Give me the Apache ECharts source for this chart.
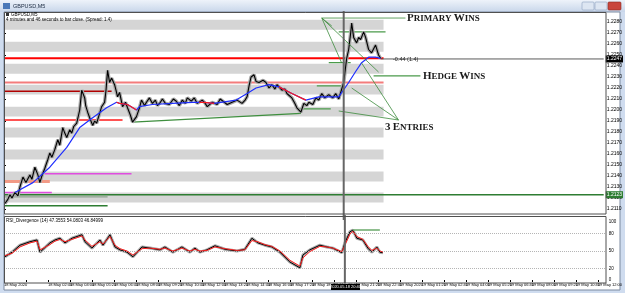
<!DOCTYPE html>
<html>
<head>
<meta charset="utf-8">
<script src="https://cdn.jsdelivr.net/npm/echarts/dist/echarts.min.js"></script>
<style>
html, body { margin: 0; padding: 0; background: #cfdcef; }
#main { width: 625px; height: 293px; }
</style>
</head>
<body>
<div id="main"></div>
<script>
var app = echarts.init(document.getElementById('main'));

// x = bar slot on the chart, y = GBPUSD price
var pricePts = [[0.5,1.2115],[2,1.2119],[3,1.2123],[4,1.2120],[5.5,1.2125],[7,1.2122],[8,1.2130],[9.5,1.2139],[11,1.2134],[13,1.2141],[14,1.2137],[15.5,1.2148],[17,1.2141],[18,1.2134],[19,1.2140],[20.5,1.2147],[22,1.2155],[23,1.2161],[24,1.2157],[25.5,1.2164],[27,1.2173],[28,1.2168],[29.5,1.2184],[30.5,1.2179],[31.5,1.2175],[33,1.2182],[34,1.2179],[35,1.2185],[36.5,1.2188],[38,1.2200],[39,1.2218],[40.5,1.2211],[41,1.2204],[42,1.2198],[43,1.2193],[44.5,1.2186],[45.5,1.2190],[46.5,1.2188],[48,1.2197],[49,1.2203],[50.5,1.2207],[51.2,1.2218],[52,1.2236],[53,1.2225],[54,1.2229],[55.5,1.2223],[56.2,1.2218],[57,1.2212],[58,1.2216],[59.5,1.2203],[61,1.2207],[62,1.2202],[63.5,1.2195],[64.5,1.2189],[66.5,1.2194],[68,1.2202],[69,1.2209],[70.5,1.2204],[71.5,1.2207],[73,1.2211],[74.5,1.2206],[76,1.2209],[77,1.2204],[78.5,1.2207],[79.5,1.2210],[81,1.2206],[83,1.2205],[85,1.2210],[86.5,1.2208],[88,1.2204],[89.5,1.2209],[91,1.2206],[92,1.2211],[94,1.2208],[95.5,1.2211],[97,1.2206],[99.5,1.2209],[101,1.2206],[102,1.2203],[104.5,1.2207],[107,1.2205],[108.5,1.2210],[109.5,1.2209],[112,1.2205],[114.5,1.2207],[117,1.2209],[119.5,1.2206],[121,1.2209],[122,1.2212],[123,1.2222],[124,1.2230],[125.5,1.2232],[126.5,1.2226],[128,1.2225],[130,1.2227],[131.5,1.2225],[133,1.2220],[134.5,1.2223],[136,1.2219],[137,1.2223],[139.5,1.2218],[141,1.2219],[142,1.2215],[144.5,1.2211],[146,1.2206],[147,1.2202],[149,1.2198],[150.5,1.2206],[152,1.2204],[153,1.2207],[155,1.2205],[156.5,1.2211],[158,1.2209],[159.5,1.2215],[161,1.2211],[163,1.2214],[165,1.2211],[166.5,1.2215],[168,1.2210],[169,1.2211],[170.5,1.2225],[172,1.2247],[173,1.2255],[174,1.2270],[174.5,1.2279],[175.5,1.2266],[177,1.2261],[178,1.2266],[179,1.2264],[180.5,1.2271],[181.5,1.2266],[183,1.2255],[184.5,1.2252],[186.5,1.2259],[188,1.2250],[189,1.2247]];

var maPts = [[5.5,1.2125],[14.5,1.2134],[23,1.2148],[31.5,1.2166],[38,1.2184],[44.5,1.2193],[51.5,1.2202],[56.5,1.2207],[58,1.2206],[62,1.2205],[66.5,1.2200],[68,1.2203],[74.5,1.2205],[84.5,1.2206],[94.5,1.2207],[100.5,1.2207],[105.5,1.2206],[116.5,1.2209],[122,1.2215],[126.5,1.2220],[133,1.2223],[138,1.2221],[144.5,1.2215],[151.5,1.2209],[158,1.2212],[168,1.2212],[173,1.2225],[176.5,1.2235],[179.5,1.2243],[183,1.2248],[186.5,1.2248],[189,1.2247]];
var maDown1 = [[56.5,1.2207],[58,1.2206],[62,1.2205],[66.5,1.2200]];
var maDown2 = [[98,1.2207],[100.5,1.2207],[103,1.22065],[105.5,1.2206]];
var maDown3 = [[138,1.2221],[144.5,1.2215],[151.5,1.2209]];

var rsiPts = [[0.5,40],[4,48],[8,60],[13,66],[16.5,69],[18,48],[23,64],[25.5,69],[28,72],[30.5,64],[34,72],[39,78],[40.5,66],[44,55],[48,69],[49.5,60],[53,78],[55.5,57],[58,52],[61.5,48],[64.5,40],[69,57],[73,55],[78,52],[80.5,57],[84.5,48],[89,57],[93,48],[95.5,55],[98,48],[101.5,52],[105.5,59],[110.5,53],[116.5,50],[120.5,53],[124,72],[127,64],[130.5,60],[134,57],[138,48],[143,31],[148,21],[149.5,43],[153,52],[158,60],[161.5,57],[164.5,55],[169,47],[170.5,64],[173,83],[174.5,86],[176.5,72],[179.5,69],[182,55],[184,48],[186.5,57],[188,48],[189.5,47]];
var rsiSignal = [[0.5,42],[4,46],[8,57],[13,64],[16.5,67],[18,52],[23,61],[25.5,67],[28,70],[30.5,66],[34,70],[39,76],[40.5,69],[44,58],[48,66],[49.5,62],[53,75],[55.5,60],[58,54],[61.5,50],[64.5,43],[69,54],[73,55],[78,53],[80.5,55],[84.5,50],[89,55],[93,50],[95.5,53],[98,50],[101.5,51],[105.5,57],[110.5,54],[116.5,51],[120.5,52],[124,68],[127,66],[130.5,61],[134,58],[138,50],[143,34],[148,24],[149.5,38],[153,49],[158,58],[161.5,57],[164.5,55],[169,49],[170.5,60],[173,79],[174.5,84],[176.5,75],[179.5,70],[182,58],[184,51],[186.5,55],[188,50],[189.5,48]];
var rsiLevels = [20, 50, 80];
var rsiTicks = [0, 20, 50, 80, 100];

// horizontal levels drawn on the chart
var levelPrice = [1.2247, 1.2225, 1.2217, 1.2191, 1.2135, 1.2142, 1.2125, 1.2121, 1.2113];
var levelFrom = [0, 0, 0, 0, 0, 20.5, 0, 0, 0];
var levelTo = [190.5, 190.5, 54, 59.5, 23, 64, 24, 52, 52];
var levelColor = ['#ff0000', '#f47c7c', '#b00000', '#ff1a1a', '#f29a86', '#e04ce0', '#e04ce0', '#7e957e', '#2e7d32'];
var levelWidth = [2, 2, 1.5, 1.5, 3, 1.5, 1.5, 1, 1.5];

var stopPrice = 1.2123;      // full width green line
var lastPrice = 1.22464;     // crosshair line

var entryPrice = [1.2201, 1.2222, 1.2243, 1.2271, 1.2231];
var entryFrom = [148, 157, 163, 168, 185.5];
var entryTo = [164, 170.5, 174, 191.5, 209];
var trendPts = [[64.5, 1.2189], [149, 1.2197]];
var rsiMark = [[174.5, 86], [188, 86]];

var annoSegs = [
    [[159.5, 1.22836], [201.5, 1.22836]],
    [[159.5, 1.22836], [169.5, 1.22427]],
    [[159.5, 1.22836], [164.5, 1.22764]],
    [[159.5, 1.22836], [188, 1.22345]],
    [[198, 1.21909], [168, 1.21991]],
    [[198, 1.21909], [174.5, 1.2220]],
    [[198, 1.21909], [179.5, 1.22427]]
];

var bandTop = [1.2282, 1.2262, 1.2242, 1.2223, 1.2203, 1.2184, 1.2164, 1.2144, 1.2125];
var bandBot = [1.2273, 1.2253, 1.2233, 1.2214, 1.2194, 1.2175, 1.2155, 1.2135, 1.2116];
var bandEnd = 190.5;
var crossX = 170.5;

var timeLabels = ['18 May 2020', '', '18 May 02:40', '18 May 04:00', '18 May 05:20', '18 May 06:40', '18 May 08:00', '18 May 09:20', '18 May 10:40', '18 May 12:00', '18 May 13:20', '18 May 14:40', '18 May 16:00', '18 May 17:20', '18 May 18:40', '18 May 20:00', '18 May 21:20', '18 May 22:40', '19 May 2020', '19 May 01:20', '19 May 02:40', '19 May 04:00', '19 May 05:20', '19 May 06:40', '19 May 08:00', '19 May 09:20', '19 May 10:40', '19 May 12:00'];

function seg(pts, color, width, grid, z) {
    return {
        type: 'line', xAxisIndex: grid, yAxisIndex: grid, data: pts,
        symbol: 'none', silent: true, z: z || 3,
        lineStyle: { color: color, width: width }
    };
}

var series = [];

series.push({
    type: 'line', data: [], silent: true, z: 1,
    markArea: {
        silent: true,
        itemStyle: { color: '#d5d5d5' },
        data: bandTop.map(function (t, i) {
            return [{ xAxis: 0, yAxis: t }, { xAxis: bandEnd, yAxis: bandBot[i] }];
        })
    }
});

levelPrice.forEach(function (p, i) {
    series.push(seg([[levelFrom[i], p], [levelTo[i], p]], levelColor[i], levelWidth[i], 0, 3));
});

var stop = seg([[0, stopPrice], [301, stopPrice]], '#2e7d32', 1.5, 0, 3);
stop.endLabel = { show: true, formatter: '1.2123', backgroundColor: '#2e7d32', color: '#fff',
    fontSize: 5, padding: [1, 1], distance: 2 };
series.push(stop);

var cross = seg([[189, lastPrice], [301, lastPrice]], '#5a5a5a', 1, 0, 3);
cross.endLabel = { show: true, formatter: '1.2247', backgroundColor: '#000', color: '#fff',
    fontSize: 5, padding: [1, 1], distance: 2 };
series.push(cross);

series.push(seg(trendPts, '#3f8f3f', 1.2, 0, 3));
entryPrice.forEach(function (p, i) {
    series.push(seg([[entryFrom[i], p], [entryTo[i], p]], '#4a9a4a', 1.2, 0, 3));
});
annoSegs.forEach(function (s) {
    series.push(seg(s, '#3c8c3c', 0.8, 0, 6));
});

// vertical crosshair through both panes
var vMain = seg([[crossX, 1.2100], [crossX, 1.2290]], '#666', 2, 0, 7);
var vRsi = seg([[crossX, -6], [crossX, 112]], '#666', 2, 1, 7);
vRsi.clip = false;
series.push(vMain, vRsi);

series.push(seg(pricePts, '#a8a8a8', 3.5, 0, 4));
series.push(seg(pricePts, '#000', 1.1, 0, 5));
series.push(seg(maPts, '#1f2fff', 1.2, 0, 5));
series.push(seg(maDown1, '#ff1a1a', 1.2, 0, 5));
series.push(seg(maDown2, '#ff1a1a', 1.2, 0, 5));
series.push(seg(maDown3, '#ff1a1a', 1.2, 0, 5));

var rsiHalo = seg(rsiPts, '#a8a8a8', 3, 1, 3);
rsiHalo.markLine = {
    silent: true, symbol: 'none', label: { show: false },
    lineStyle: { type: 'dotted', color: '#b5b5b5', width: 1 },
    data: rsiLevels.map(function (v) { return { yAxis: v }; })
};
series.push(rsiHalo);
series.push(seg(rsiPts, '#000', 1, 1, 4));
series.push(seg(rsiSignal, '#ff2020', 1, 1, 5));
series.push(seg(rsiMark, '#6aa86a', 1.5, 1, 5));

function txt(x, y, s, size, extra) {
    var st = { text: s, fontSize: size, fill: '#000', fontFamily: 'Liberation Sans, Arial, sans-serif', verticalAlign: 'middle' };
    for (var k in extra) st[k] = extra[k];
    return { type: 'text', x: x, y: y, z: 50, silent: true, style: st };
}

function caps(x, y, words) {
    var s = words.map(function (w) { return '{b|' + w.charAt(0) + '}{s|' + w.slice(1) + '}'; }).join('{s| }');
    return {
        type: 'text', x: x, y: y, z: 50, silent: true,
        style: {
            text: s, verticalAlign: 'middle', fill: '#1a1a1a',
            rich: {
                b: { fontSize: 11, fontFamily: 'Liberation Serif, DejaVu Serif, serif', fontWeight: 'bold', fill: '#1a1a1a', verticalAlign: 'bottom' },
                s: { fontSize: 9, fontFamily: 'Liberation Serif, DejaVu Serif, serif', fontWeight: 'bold', fill: '#1a1a1a', verticalAlign: 'bottom' }
            }
        }
    };
}

var graphics = [
    // window frame and title bar
    { type: 'rect', z: -10, shape: { x: 0, y: 0, width: 625, height: 12 },
      style: { fill: new echarts.graphic.LinearGradient(0, 0, 0, 1, [{ offset: 0, color: '#eef3fa' }, { offset: 1, color: '#c8d6ea' }]) } },
    { type: 'rect', z: -10, shape: { x: 3, y: 3, width: 7, height: 6 }, style: { fill: '#4a78b8' } },
    txt(13, 6, 'GBPUSD,M5', 5.5, { fill: '#1b2a40' }),
    { type: 'rect', z: -10, shape: { x: 582, y: 2, width: 12, height: 8, r: 1 }, style: { fill: '#dde6f2', stroke: '#8da2c0', lineWidth: 0.6 } },
    { type: 'rect', z: -10, shape: { x: 595, y: 2, width: 12, height: 8, r: 1 }, style: { fill: '#dde6f2', stroke: '#8da2c0', lineWidth: 0.6 } },
    { type: 'rect', z: -10, shape: { x: 608, y: 2, width: 13, height: 8, r: 1 }, style: { fill: '#c9463d', stroke: '#8a2a24', lineWidth: 0.6 } },
    { type: 'rect', z: -10, shape: { x: 4, y: 12, width: 616, height: 278 }, style: { fill: '#fff', stroke: '#7d8aa0', lineWidth: 1 } },
    // pane borders
    { type: 'rect', z: 40, silent: true, shape: { x: 4.5, y: 12.5, width: 601.5, height: 201.5 }, style: { fill: 'none', stroke: '#505050', lineWidth: 1 } },
    { type: 'rect', z: 40, silent: true, shape: { x: 4.5, y: 216.5, width: 601.5, height: 66.5 }, style: { fill: 'none', stroke: '#505050', lineWidth: 1 } },
    // info texts
    { type: 'rect', z: 50, silent: true, shape: { x: 6, y: 13, width: 3, height: 3 }, style: { fill: '#333' } },
    txt(11, 14.5, 'GBPUSD,M5', 4.5),
    txt(6, 19.5, '4 minutes and 46 seconds to bar close. (Spread: 1.4)', 4.5),
    txt(6, 221, 'RSI_Divergence (14) 47.3553 54.0803 46.84999', 4.5),
    txt(393, 59, '-0.44 (1.4)', 5.5, { fill: '#222' }),
    // crosshair time box
    { type: 'rect', z: 50, silent: true, shape: { x: 331, y: 284, width: 29, height: 6 }, style: { fill: '#000' } },
    txt(345.5, 287, '2020.05.18 20:40', 4, { fill: '#fff', align: 'center' }),
    // annotations
    caps(407, 18, ['PRIMARY', 'WINS']),
    caps(423, 76, ['HEDGE', 'WINS']),
    caps(385, 127, ['3', 'ENTRIES'])
];

option = {
    animation: false,
    backgroundColor: '#cfdcef',
    grid: [
        { left: 4, right: 19, top: 11, height: 209 },
        { left: 4, right: 19, top: 222, height: 58 }
    ],
    xAxis: [
        { gridIndex: 0, type: 'value', min: 0, max: 301, show: false },
        {
            gridIndex: 1, type: 'value', min: 0, max: 301, interval: 11,
            axisLine: { show: false }, splitLine: { show: false },
            axisTick: { show: true, length: 2, lineStyle: { color: '#000' } },
            axisLabel: {
                fontSize: 4, color: '#000', margin: 3, align: 'left', showMaxLabel: false,
                fontFamily: 'Liberation Sans Narrow, Liberation Sans, sans-serif',
                formatter: function (v) { return timeLabels[Math.round(v / 11)] || ''; }
            }
        }
    ],
    yAxis: [
        {
            gridIndex: 0, type: 'value', position: 'right', min: 1.2100, max: 1.2290, interval: 0.001,
            axisLine: { show: false }, splitLine: { show: false },
            axisTick: { show: true, length: 2, lineStyle: { color: '#000' } },
            axisLabel: {
                fontSize: 5, color: '#000', margin: 3, showMinLabel: false, showMaxLabel: false,
                formatter: function (v) { return v.toFixed(4); }
            }
        },
        {
            gridIndex: 1, type: 'value', position: 'right', min: 0, max: 100, interval: 10,
            axisLine: { show: false }, splitLine: { show: false },
            axisTick: { show: false },
            axisLabel: {
                fontSize: 4.5, color: '#000', margin: 3,
                formatter: function (v) { return rsiTicks.indexOf(v) >= 0 ? String(v) : ''; }
            }
        }
    ],
    graphic: { elements: graphics },
    series: series
};

app.setOption(option);
</script>
</body>
</html>
